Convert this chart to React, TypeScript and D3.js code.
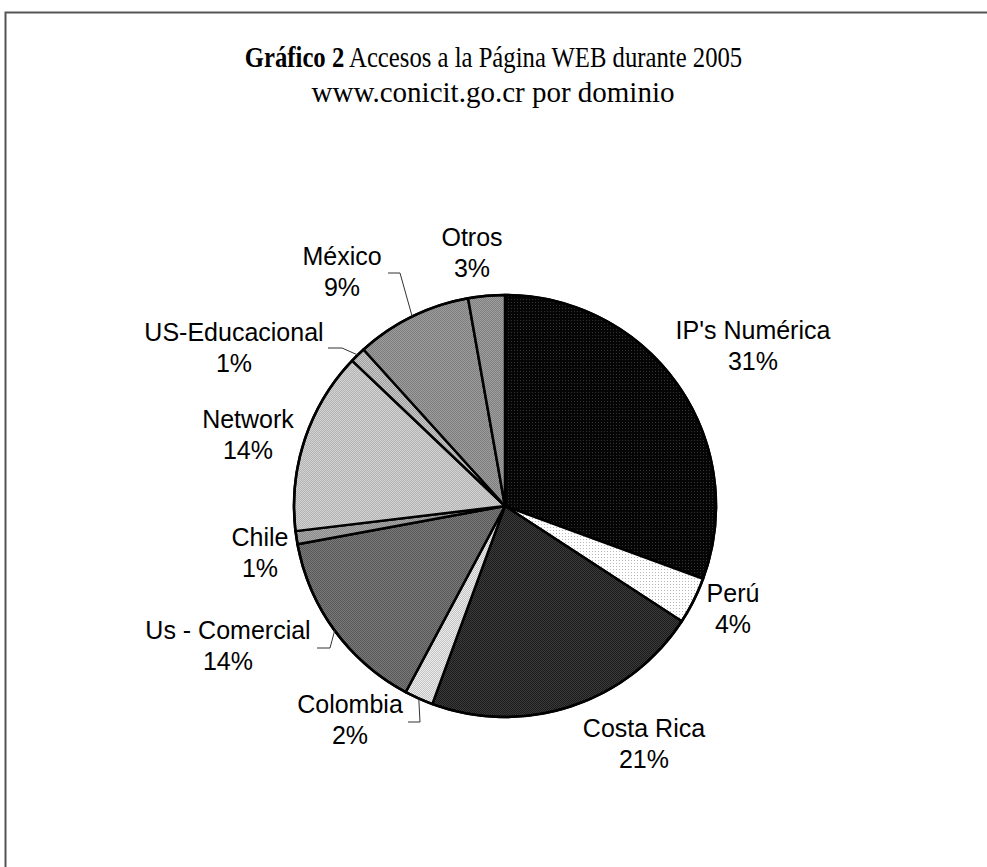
import React from "react";
import * as d3 from "d3";

const categories = ["IP's Numérica", "Perú", "Costa Rica", "Colombia", "Us - Comercial", "Chile", "Network", "US-Educacional", "México", "Otros"];
const values = [30.6, 3.6, 21.4, 2.2, 14.3, 1.0, 14.0, 1.2, 8.9, 2.8];

const TITLE_BOLD = "Gráfico 2";
const TITLE_REST = "Accesos a la Página WEB durante 2005";
const SUBTITLE = "www.conicit.go.cr por dominio";

// fill patterns (background, dot colour, cell size)
const FILLS: [string, string, number][] = [
  ["#050505", "#333333", 3],
  ["#ffffff", "#b8b8b8", 3],
  ["#1c1c1c", "#3a3a3a", 2],
  ["#ececec", "#c4c4c4", 2],
  ["#585858", "#7a7a7a", 2],
  ["#a8a8a8", "#8a8a8a", 2],
  ["#d2d2d2", "#b4b4b4", 2],
  ["#c8c8c8", "#a0a0a0", 2],
  ["#7e7e7e", "#9c9c9c", 2],
  ["#9e9e9e", "#808080", 2],
];

// label layout: [x centre, baseline of first line]
const LABEL_POS: [number, number][] = [
  [753, 339], [733, 602], [644, 737], [350, 713], [228, 639],
  [260, 546], [248, 428], [234, 341], [342, 265], [472, 246],
];
// leader lines: slice index -> [xStart, xElbow, y]
const LEADERS: Record<number, [number, number, number]> = {
  3: [408, 420, 722],
  4: [317, 330, 648],
  7: [328, 342, 348],
  8: [388, 400, 273],
};

const W = 987, H = 867;
const CX = 505, CY = 506, R = 211;
const SERIF = "'Liberation Serif', 'Times New Roman', serif";

export default function App() {
  const pie = d3.pie<number>().sort(null).value((d) => d).startAngle(0).endAngle(2 * Math.PI);
  const arcs = pie(values);
  const arc = d3.arc<d3.PieArcDatum<number>>().innerRadius(0).outerRadius(R);
  const total = d3.sum(values);

  return (
    <svg width={W} height={H} style={{ position: "absolute", left: 0, top: 0, background: "#fff" }}>
      <defs>
        {FILLS.map(([bg, dot, s], i) => (
          <pattern key={i} id={`p${i}`} width={s} height={s} patternUnits="userSpaceOnUse">
            <rect width={s} height={s} fill={bg} />
            <rect width={1} height={1} fill={dot} />
            {s === 2 && <rect x={1} y={1} width={1} height={1} fill={dot} />}
          </pattern>
        ))}
      </defs>
      <rect x={5.5} y={12.5} width={1200} height={1200} fill="none" stroke="#555" strokeWidth={2} />
      <g transform="translate(493.5,67) scale(0.852,1)">
        <text x={0} y={0} textAnchor="middle" fontFamily={SERIF} fontSize={29} fill="#000">
          <tspan fontWeight="bold">{TITLE_BOLD}</tspan>
          <tspan> {TITLE_REST}</tspan>
        </text>
      </g>
      <text x={493} y={102} textAnchor="middle" fontFamily={SERIF} fontSize={29} fill="#000">
        {SUBTITLE}
      </text>
      <g transform={`translate(${CX},${CY})`}>
        {arcs.map((a, i) => (
          <path key={i} d={arc(a) || ""} fill={`url(#p${i})`} stroke="#000" strokeWidth={2.5} strokeLinejoin="round" />
        ))}
        <circle r={R} fill="none" stroke="#000" strokeWidth={2.5} />
      </g>
      {arcs.map((a, i) => {
        const ld = LEADERS[i];
        if (!ld) return null;
        const mid = (a.startAngle + a.endAngle) / 2;
        const ex = CX + R * Math.sin(mid);
        const ey = CY - R * Math.cos(mid);
        return (
          <polyline key={`l${i}`} points={`${ld[0]},${ld[2]} ${ld[1]},${ld[2]} ${ex},${ey}`} fill="none" stroke="#333" strokeWidth={1} />
        );
      })}
      {categories.map((c, i) => {
        const [x, y] = LABEL_POS[i];
        const pct = Math.round((values[i] / total) * 100);
        return (
          <text key={`t${i}`} x={x} y={y} textAnchor="middle" fontFamily="'Liberation Sans', Arial, sans-serif" fontSize={25} fill="#000">
            <tspan x={x}>{c}</tspan>
            <tspan x={x} dy={31}>{pct}%</tspan>
          </text>
        );
      })}
    </svg>
  );
}
